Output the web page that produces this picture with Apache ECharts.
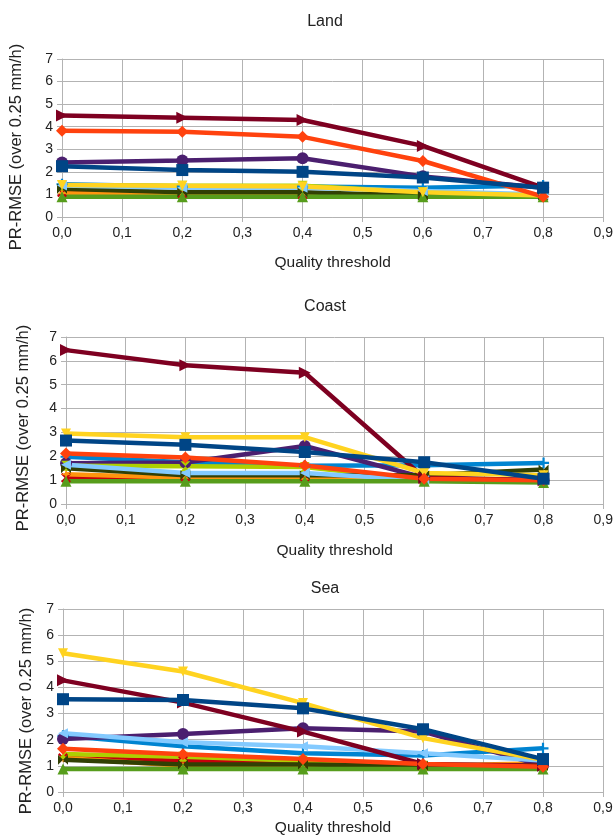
<!DOCTYPE html>
<html>
<head>
<meta charset="utf-8">
<script src="https://cdn.jsdelivr.net/npm/echarts@6/dist/echarts.min.js"></script>
<style>
html,body{margin:0;padding:0;background:#fff;}
#chart{width:616px;height:840px;}
</style>
</head>
<body>
<div id="chart"></div>
<script>
// Quality thresholds (x values)
const thresholds = [0.0, 0.2, 0.4, 0.6, 0.8];
const xTicks = [0, 0.1, 0.2, 0.3, 0.4, 0.5, 0.6, 0.7, 0.8, 0.9];
const yTicks = [0, 1, 2, 3, 4, 5, 6, 7];
const panelTitles = ['Land', 'Coast', 'Sea'];
const xAxisTitle = 'Quality threshold';
const yAxisTitle = 'PR-RMSE (over 0.25 mm/h)';

// Series (LibreOffice default order)
const seriesNames = ['Series 1','Series 2','Series 3','Series 4','Series 5','Series 6','Series 7','Series 8','Series 9','Series 10','Series 11','Series 12'];

// Land
const landS1  = [2.25, 2.08, 2.00, 1.75, 1.30];
const landS2  = [3.82, 3.78, 3.55, 2.48, 0.90];
const landS3  = [1.42, 1.38, 1.35, 1.10, 0.95];
const landS4  = [0.90, 0.90, 0.90, 0.90, 0.90];
const landS5  = [4.50, 4.40, 4.30, 3.15, 1.30];
const landS6  = [1.40, 1.30, 1.30, 1.15, 1.00];
const landS7  = [1.25, 1.10, 1.10, 0.95, 0.95];
const landS8  = [1.40, 1.38, 1.38, 1.10, 0.95];
const landS9  = [2.42, 2.50, 2.60, 1.80, 1.30];
const landS10 = [1.05, 1.00, 1.00, 0.95, 0.95];
const landS11 = [1.10, 1.05, 1.00, 0.95, 0.95];
const landS12 = [1.45, 1.35, 1.35, 1.30, 1.40];

// Coast
const coastS1  = [2.66, 2.48, 2.18, 1.75, 1.06];
const coastS2  = [2.12, 1.95, 1.61, 1.06, 1.00];
const coastS3  = [2.96, 2.80, 2.80, 1.30, 1.20];
const coastS4  = [0.95, 0.95, 0.95, 0.95, 0.90];
const coastS5  = [6.45, 5.82, 5.50, 1.10, 1.00];
const coastS6  = [1.65, 1.30, 1.30, 1.00, 1.00];
const coastS7  = [1.50, 1.20, 1.20, 1.20, 1.45];
const coastS8  = [1.60, 1.58, 1.55, 1.00, 1.00];
const coastS9  = [1.71, 1.74, 2.43, 1.10, 1.00];
const coastS10 = [1.25, 1.10, 1.05, 1.00, 1.00];
const coastS11 = [1.10, 1.15, 1.15, 1.00, 1.00];
const coastS12 = [1.98, 1.75, 1.60, 1.62, 1.72];

// Sea
const seaS1  = [3.55, 3.52, 3.20, 2.40, 1.26];
const seaS2  = [1.65, 1.44, 1.26, 1.07, 0.97];
const seaS3  = [5.31, 4.61, 3.40, 2.06, 1.23];
const seaS4  = [0.88, 0.88, 0.88, 0.88, 0.88];
const seaS5  = [4.27, 3.42, 2.31, 1.07, 1.00];
const seaS6  = [2.25, 1.90, 1.75, 1.48, 1.20];
const seaS7  = [1.23, 1.05, 1.05, 1.00, 1.00];
const seaS8  = [1.45, 1.35, 1.20, 1.00, 1.00];
const seaS9  = [2.03, 2.22, 2.44, 2.31, 1.00];
const seaS10 = [1.30, 1.00, 1.00, 1.00, 1.10];
const seaS11 = [1.30, 1.20, 1.10, 1.00, 1.00];
const seaS12 = [2.15, 1.75, 1.48, 1.40, 1.67];

const landData  = [landS1, landS2, landS3, landS4, landS5, landS6, landS7, landS8, landS9, landS10, landS11, landS12];
const coastData = [coastS1, coastS2, coastS3, coastS4, coastS5, coastS6, coastS7, coastS8, coastS9, coastS10, coastS11, coastS12];
const seaData   = [seaS1, seaS2, seaS3, seaS4, seaS5, seaS6, seaS7, seaS8, seaS9, seaS10, seaS11, seaS12];
const panelData = [landData, coastData, seaData];

// Styles
const colors = ['#004586','#ff420e','#ffd320','#579d1c','#7e0021','#83caff','#314004','#aecf00','#4b1f6f','#ff950e','#c5000b','#0084d1'];
const symbols = [
  'rect', 'diamond', 'triangle', 'triangle', 'triangle', 'triangle',
  'path://M0,0 L10,5 L0,10 Z M20,0 L10,5 L20,10 Z',
  'path://M0,0 L10,0 L5,5 L10,10 L0,10 L5,5 Z',
  'circle',
  'path://M5,0 L6.2,3.8 L10,5 L6.2,6.2 L5,10 L3.8,6.2 L0,5 L3.8,3.8 Z',
  'path://M0,1.5 L1.5,0 L5,3.5 L8.5,0 L10,1.5 L6.5,5 L10,8.5 L8.5,10 L5,6.5 L1.5,10 L0,8.5 L3.5,5 Z',
  'path://M4,0 L6,0 L6,4 L10,4 L10,6 L6,6 L6,10 L4,10 L4,6 L0,6 L0,4 L4,4 Z'
];
const rotations = [0, 0, 180, 0, -90, 90, 0, 0, 0, 0, 0, 0];
const sizes = [12, 12, 10, 11, 12, 10, 10, 10, 12, 10, 10, 11];

const grids = [
  {left: 62, top: 59, width: 545, height: 158},
  {left: 66, top: 337, width: 541, height: 167},
  {left: 63, top: 609, width: 540, height: 183}
];
const titleTops = [9, 294, 576];
const xNameGaps = [38, 39, 28];
const yTitleX = [16, 23, 26];
const yTitleY = [147, 428, 711];

const fontFam = '"Liberation Sans", Arial, sans-serif';
const gridColor = '#b3b3b3';
const textColor = '#222';

const option = {
  animation: false,
  backgroundColor: '#ffffff',
  title: panelTitles.map((t, i) => ({
    text: t, left: 320, textAlign: 'center', top: titleTops[i],
    textStyle: {fontFamily: fontFam, fontSize: 16, fontWeight: 'normal', color: textColor}
  })),
  graphic: yTitleX.map((x, i) => ({
    type: 'text', x: x, y: yTitleY[i], rotation: Math.PI / 2,
    style: {text: yAxisTitle, fontFamily: fontFam, fontSize: 16.5, fill: textColor,
      textAlign: 'center', textVerticalAlign: 'middle'}
  })),
  grid: grids,
  xAxis: grids.map((g, i) => ({
    type: 'value', gridIndex: i, min: 0, max: 0.9, interval: 0.1,
    name: xAxisTitle, nameLocation: 'middle', nameGap: xNameGaps[i],
    nameTextStyle: {fontFamily: fontFam, fontSize: 15.5, color: textColor},
    axisLine: {show: true, lineStyle: {color: gridColor, width: 1}},
    axisTick: {show: true, length: 5, lineStyle: {color: gridColor}},
    splitLine: {show: true, lineStyle: {color: gridColor, width: 1}},
    axisLabel: {fontFamily: fontFam, fontSize: 14, color: textColor, margin: 9,
      formatter: v => xTicks.includes(Math.round(v*10)/10) ? v.toFixed(1).replace('.', ',') : ''}
  })),
  yAxis: grids.map((g, i) => ({
    type: 'value', gridIndex: i, min: 0, max: 7, interval: 1,
    axisLine: {show: true, lineStyle: {color: gridColor, width: 1}},
    axisTick: {show: true, length: 5, lineStyle: {color: gridColor}},
    splitLine: {show: true, lineStyle: {color: gridColor, width: 1}},
    axisLabel: {fontFamily: fontFam, fontSize: 14, color: textColor, margin: 9,
      formatter: v => yTicks.includes(v) ? String(v) : ''}
  })),
  series: []
};

panelData.forEach((data, p) => {
  for (let k = data.length - 1; k >= 0; k--) {
    option.series.push({
      type: 'line',
      name: seriesNames[k],
      xAxisIndex: p, yAxisIndex: p,
      data: thresholds.map((x, j) => [x, data[k][j]]),
      symbol: symbols[k],
      symbolRotate: rotations[k],
      symbolSize: sizes[k],
      showAllSymbol: true,
      lineStyle: {color: colors[k], width: 4.5},
      itemStyle: {color: colors[k], borderWidth: 0},
      clip: false
    });
  }
});

const chart = echarts.init(document.getElementById('chart'), null, {renderer: 'canvas'});
chart.setOption(option);
</script>
</body>
</html>
